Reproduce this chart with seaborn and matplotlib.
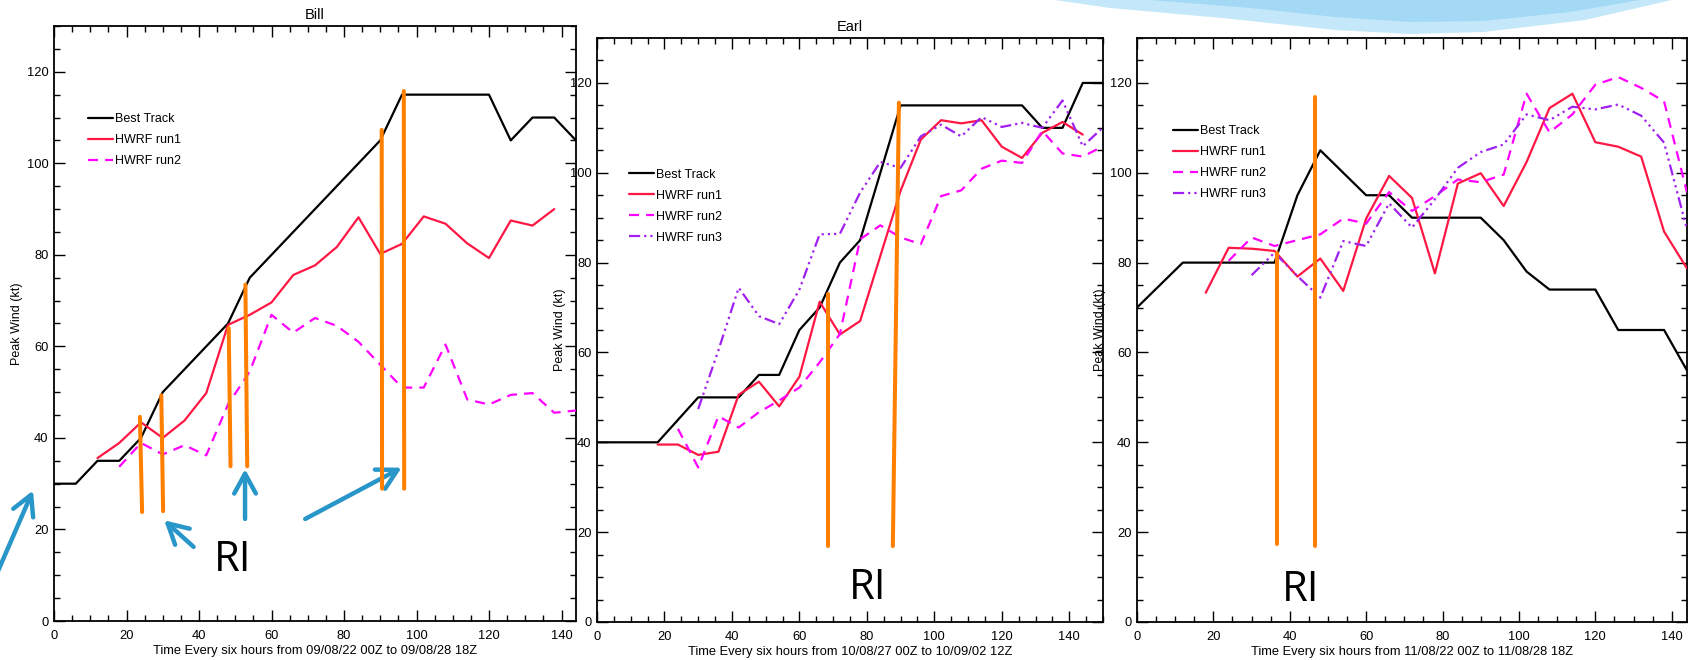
import matplotlib
matplotlib.use("Agg")
import matplotlib.pyplot as plt
from matplotlib.ticker import MultipleLocator
from matplotlib.patches import Polygon
import seaborn as sns
import pandas as pd

# ---------------- data ----------------
BILL_T = list(range(0, 145, 6))
BILL_BEST = [30, 30, 35, 35, 40, 50, 55, 60, 65, 75, 80, 85, 90, 95, 100, 105,
             115, 115, 115, 115, 115, 105, 110, 110, 105]
BILL_RUN1_T = list(range(12, 139, 6))
BILL_RUN1 = [35.6, 38.9, 43.4, 40.0, 43.8, 49.8, 64.7, 66.9, 69.6, 75.6, 77.7,
             81.7, 88.2, 80.2, 82.4, 88.4, 86.8, 82.5, 79.3, 87.5, 86.4, 90.0]
BILL_RUN2_T = list(range(18, 145, 6))
BILL_RUN2 = [33.7, 38.9, 36.4, 38.4, 36.2, 47.3, 54.5, 66.9, 63.0, 66.2, 64.5,
             61.0, 56.0, 51.0, 51.0, 60.4, 48.4, 47.3, 49.4, 49.8, 45.5, 46.0]

EARL_T = list(range(0, 151, 6))
EARL_BEST = [40, 40, 40, 40, 45, 50, 50, 50, 55, 55, 65, 70, 80, 85, 100, 115,
             115, 115, 115, 115, 115, 115, 110, 110, 120, 120]
EARL_RUN1_T = list(range(18, 145, 6))
EARL_RUN1 = [39.5, 39.5, 37.2, 37.9, 50.6, 53.5, 48.0, 54.6, 71.3, 64.0, 67.0,
             81.5, 96.0, 107.4, 111.7, 111.0, 111.7, 105.8, 103.3, 108.9, 111.3, 108.5]
EARL_RUN2_T = list(range(24, 151, 6))
EARL_RUN2 = [43.0, 34.4, 45.8, 43.3, 46.7, 49.3, 52.2, 57.8, 64.1, 85.2, 88.3,
             85.6, 84.1, 94.8, 96.1, 100.9, 102.7, 102.2, 109.3, 104.3, 103.6, 105.9]
EARL_RUN3_T = list(range(30, 151, 6))
EARL_RUN3 = [47.4, 60.5, 74.4, 68.1, 66.3, 74.0, 86.3, 86.4, 95.6, 102.4, 101.1,
             108.1, 110.7, 108.1, 112.4, 110.2, 111.1, 110.0, 116.1, 105.9, 110.1]

IRENE_T = list(range(0, 145, 6))
IRENE_BEST = [70, 75, 80, 80, 80, 80, 80, 95, 105, 100, 95, 95, 90, 90, 90, 90,
              85, 78, 74, 74, 74, 65, 65, 65, 56]
IRENE_RUN1_T = list(range(18, 145, 6))
IRENE_RUN1 = [73.3, 83.3, 83.1, 82.6, 76.9, 80.9, 73.7, 89.8, 99.3, 94.4, 77.6,
              97.6, 99.9, 92.6, 102.4, 114.4, 117.6, 106.8, 105.8, 103.6, 86.9, 78.7]
IRENE_RUN2_T = list(range(24, 145, 6))
IRENE_RUN2 = [80.4, 85.6, 83.7, 85.0, 86.3, 89.8, 88.7, 95.7, 91.5, 94.8, 98.5,
              97.9, 99.6, 117.6, 109.0, 113.0, 119.6, 121.3, 118.9, 115.9, 95.6]
IRENE_RUN3_T = list(range(30, 145, 6))
IRENE_RUN3 = [77.2, 82.2, 77.0, 72.2, 84.8, 83.7, 93.2, 87.8, 94.1, 101.1, 104.6,
              106.3, 113.0, 111.7, 114.7, 114.1, 115.2, 112.7, 106.7, 87.4]

# RI markers: (time at bottom, wind at bottom, time at top, wind at top)
BILL_RI = [(24.3, 23.8, 23.7, 44.6), (30.1, 24.0, 29.6, 49.3),
           (48.7, 33.8, 48.2, 64.0), (53.3, 33.8, 52.8, 73.5),
           (90.5, 28.9, 90.4, 107.3), (96.6, 28.9, 96.5, 115.8)]
EARL_RI = [(68.5, 16.9, 68.5, 73.0), (87.7, 16.9, 89.5, 115.6)]
IRENE_RI = [(36.7, 17.4, 36.7, 82.2), (46.7, 16.9, 46.7, 116.9)]

# annotation arrows in Bill panel: (tail t, tail v, head t, head v)
BILL_ARROWS = [(-17.1, 7.9, -5.8, 28.5), (38.5, 16.2, 30.4, 22.0),
               (52.7, 22.3, 52.7, 33.2), (69.3, 22.3, 95.9, 33.5)]
RI_LABEL_POS = {"Bill": (49.4, 13.3), "Earl": (80.3, 7.6), "Irene": (42.9, 7.1)}

TITLES = ["Bill", "Earl", "Irene"]
XLABELS = ["Time Every six hours from 09/08/22 00Z to 09/08/28 18Z",
           "Time Every six hours from 10/08/27 00Z to 10/09/02 12Z",
           "Time Every six hours from 11/08/22 00Z to 11/08/28 18Z"]
XMAX = [144, 150, 144]
SERIES_NAMES = ["Best Track", "HWRF run1", "HWRF run2", "HWRF run3"]

# ---------------- style ----------------
sns.set_style("white")
plt.rcParams["font.family"] = ["Liberation Sans", "DejaVu Sans"]
for key in ["text.color", "axes.labelcolor", "xtick.color", "ytick.color"]:
    plt.rcParams[key] = "black"

COLORS = {"Best Track": "black", "HWRF run1": "#FF1744",
          "HWRF run2": "#FF00FF", "HWRF run3": "#A020F0"}
STYLES = {"Best Track": "-", "HWRF run1": "-",
          "HWRF run2": (0, (4.5, 3.2)),
          "HWRF run3": (0, (5, 1.8, 1, 1.8, 1, 1.8, 1, 1.8))}
ORANGE = "#FF8000"
BLUE = "#2896C8"

W, H = 1697, 660
fig = plt.figure(figsize=(W / 100, H / 100), dpi=100)


def box(x0, y0, x1, y1):
    return [x0 / W, 1 - y1 / H, (x1 - x0) / W, (y1 - y0) / H]


# background decoration (slide swoosh)
swoosh = [(1055, 0), (1110, 8), (1222, 18), (1335, 30), (1410, 34), (1484, 32),
          (1585, 20), (1672, 0)]
fig.patches.append(Polygon([(x / W, 1 - y / H) for x, y in swoosh], closed=True,
                           transform=fig.transFigure, facecolor="#C4E8FA",
                           edgecolor="none", zorder=0))
swoosh2 = [(1150, 0), (1250, 8), (1335, 17), (1410, 22), (1484, 21), (1570, 12),
           (1640, 0)]
fig.patches.append(Polygon([(x / W, 1 - y / H) for x, y in swoosh2], closed=True,
                           transform=fig.transFigure, facecolor="#A3D9F5",
                           edgecolor="none", zorder=0))

boxes = [box(54, 26, 576, 621), box(597, 38, 1103, 622), box(1137, 38, 1687, 622)]
panels = [
    {"Best Track": (BILL_T, BILL_BEST), "HWRF run1": (BILL_RUN1_T, BILL_RUN1),
     "HWRF run2": (BILL_RUN2_T, BILL_RUN2)},
    {"Best Track": (EARL_T, EARL_BEST), "HWRF run1": (EARL_RUN1_T, EARL_RUN1),
     "HWRF run2": (EARL_RUN2_T, EARL_RUN2), "HWRF run3": (EARL_RUN3_T, EARL_RUN3)},
    {"Best Track": (IRENE_T, IRENE_BEST), "HWRF run1": (IRENE_RUN1_T, IRENE_RUN1),
     "HWRF run2": (IRENE_RUN2_T, IRENE_RUN2), "HWRF run3": (IRENE_RUN3_T, IRENE_RUN3)},
]
ri_marks = [BILL_RI, EARL_RI, IRENE_RI]
legend_anchor = [(0.066, 0.853), (0.064, 0.776), (0.066, 0.851)]

for i, (title, pos) in enumerate(zip(TITLES, boxes)):
    ax = fig.add_axes(pos)
    ax.patch.set_alpha(0)
    handles = []
    for name in SERIES_NAMES:
        if name not in panels[i]:
            continue
        t, v = panels[i][name]
        df = pd.DataFrame({"t": t, "v": v})
        sns.lineplot(data=df, x="t", y="v", ax=ax, color=COLORS[name],
                     linestyle=STYLES[name], linewidth=1.6, label=name,
                     estimator=None, sort=False, zorder=3)
        handles.append(ax.lines[-1])
    for tb, vb, tt, vt in ri_marks[i]:
        seg = pd.DataFrame({"t": [tb, tt], "v": [vb, vt]})
        sns.lineplot(data=seg, x="t", y="v", ax=ax, color=ORANGE, linewidth=2.9,
                     estimator=None, sort=False, zorder=4)
    rx, ry = RI_LABEL_POS[title]
    ax.text(rx, ry, "RI", ha="center", va="center", fontsize=30,
            family=["Open Sans", "DejaVu Sans"], color="black")
    if title == "Bill":
        for ta, va, th, vh in BILL_ARROWS:
            ax.annotate("", xy=(th, vh), xytext=(ta, va), xycoords="data",
                        annotation_clip=False,
                        arrowprops=dict(arrowstyle="->,head_length=0.55,head_width=0.3",
                                        color=BLUE, lw=3.2, mutation_scale=26,
                                        shrinkA=0, shrinkB=0))
    ax.set_xlim(0, XMAX[i])
    ax.set_ylim(0, 130)
    ax.xaxis.set_major_locator(MultipleLocator(20))
    ax.xaxis.set_minor_locator(MultipleLocator(5))
    ax.yaxis.set_major_locator(MultipleLocator(20))
    ax.yaxis.set_minor_locator(MultipleLocator(5))
    ax.tick_params(which="both", direction="in", top=True, right=True,
                   bottom=True, left=True, width=1.0, labelsize=9.3,
                   color="black", labelcolor="black")
    ax.tick_params(axis="y", which="both", pad=4)
    ax.tick_params(axis="x", which="both", pad=6.5)
    ax.tick_params(which="major", length=8)
    ax.tick_params(which="minor", length=4.5)
    for sp in ax.spines.values():
        sp.set_visible(True)
        sp.set_linewidth(1.3)
        sp.set_color("black")
    ax.set_title(title, fontsize=10.5, pad=5)
    ax.set_xlabel(XLABELS[i], fontsize=9.3, labelpad=2)
    ax.set_ylabel("Peak Wind (kt)", fontsize=9, labelpad=3)
    ax.legend(handles=handles, labels=[h.get_label() for h in handles],
              loc="upper left", bbox_to_anchor=legend_anchor[i], frameon=False,
              fontsize=9, handlelength=1.95, handletextpad=0.15,
              labelspacing=0.72, borderpad=0, borderaxespad=0)

fig.savefig("out.png", dpi=100, facecolor="white")
